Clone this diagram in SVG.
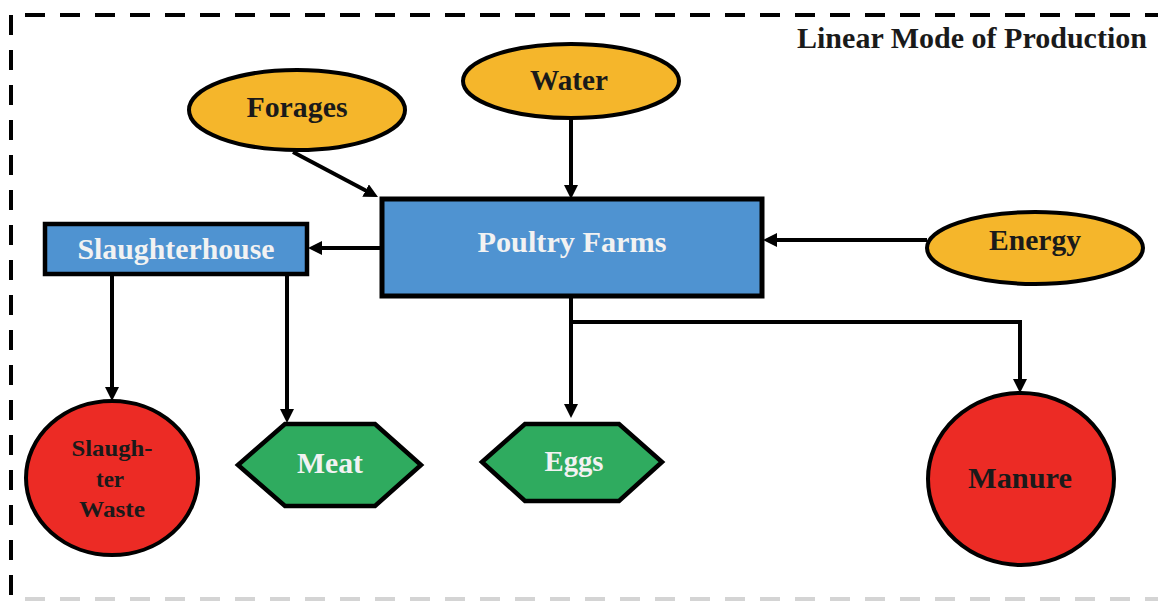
<svg xmlns="http://www.w3.org/2000/svg" width="1158" height="601" viewBox="0 0 1158 601">
<defs>
<style>
.lbl{font-family:"Liberation Serif","Times New Roman",serif;font-weight:bold;text-anchor:middle}
.dark{fill:#1a1a1a}
.light{fill:#f2f2f2}
.ell{fill:#f5b62b;stroke:#000;stroke-width:4}
.box{fill:#4f93d1;stroke:#000;stroke-width:5}
.hex{fill:#2fab5f;stroke:#000;stroke-width:4.5}
.circ{fill:#ec2b25;stroke:#000;stroke-width:4}
.con{fill:none;stroke:#000;stroke-width:4;marker-end:url(#ah)}
.brd{fill:none;stroke-width:4;stroke-dasharray:20 15}
</style>
<marker id="ah" markerUnits="userSpaceOnUse" markerWidth="16" markerHeight="16" refX="6" refY="7" orient="auto">
<path d="M0,0 L14,7 L0,14 z" fill="#000"/>
</marker>
</defs>
<rect width="1158" height="601" fill="#fff"/>
<g id="border">
<line class="brd" x1="25" y1="15" x2="1158" y2="15" stroke="#000"/>
<line class="brd" x1="11" y1="15" x2="11" y2="600" stroke="#000"/>
<line class="brd" x1="25" y1="599" x2="1158" y2="599" stroke="#d4d4d4"/>
</g>
<text class="lbl dark" x="972" y="48" font-size="29" textLength="350" lengthAdjust="spacingAndGlyphs">Linear Mode of Production</text>
<g id="connectors">
<path class="con" d="M293,152 L370.9,193.3"/>
<path class="con" d="M571,118 V191"/>
<path class="con" d="M927,240 H771"/>
<path class="con" d="M382,248 H316"/>
<path class="con" d="M112,275 V393"/>
<path class="con" d="M287,275 V415"/>
<path class="con" d="M571,296 V410"/>
<path class="con" d="M571,322 H1020 V385"/>
</g>
<g id="forages">
<ellipse class="ell" cx="297" cy="110" rx="108" ry="40"/>
<text class="lbl dark" x="297" y="117" font-size="29" textLength="101" lengthAdjust="spacingAndGlyphs">Forages</text>
</g>
<g id="water">
<ellipse class="ell" cx="571" cy="81" rx="108" ry="37"/>
<text class="lbl dark" x="569" y="90" font-size="29" textLength="78" lengthAdjust="spacingAndGlyphs">Water</text>
</g>
<g id="energy">
<ellipse class="ell" cx="1035" cy="248" rx="108" ry="36"/>
<text class="lbl dark" x="1035" y="250" font-size="29" textLength="92" lengthAdjust="spacingAndGlyphs">Energy</text>
</g>
<g id="poultry-farms">
<rect class="box" x="382" y="199" width="380" height="97"/>
<text class="lbl light" x="572" y="252" font-size="30" textLength="189" lengthAdjust="spacingAndGlyphs">Poultry Farms</text>
</g>
<g id="slaughterhouse">
<rect class="box" x="45" y="224" width="262" height="50" style="stroke-width:4.5"/>
<text class="lbl light" x="176" y="259" font-size="29" textLength="197" lengthAdjust="spacingAndGlyphs">Slaughterhouse</text>
</g>
<g id="slaughter-waste">
<ellipse class="circ" cx="112" cy="478" rx="86" ry="77"/>
<text class="lbl dark" x="112" y="456" font-size="24" textLength="81" lengthAdjust="spacingAndGlyphs">Slaugh-</text>
<text class="lbl dark" x="110" y="487" font-size="24" textLength="28" lengthAdjust="spacingAndGlyphs">ter</text>
<text class="lbl dark" x="112" y="517" font-size="24" textLength="66" lengthAdjust="spacingAndGlyphs">Waste</text>
</g>
<g id="meat">
<polygon class="hex" points="238,465 285,424 375,424 421,465 375,506 285,506"/>
<text class="lbl light" x="330" y="473" font-size="29" textLength="66" lengthAdjust="spacingAndGlyphs">Meat</text>
</g>
<g id="eggs">
<polygon class="hex" points="482,462 525,424 619,424 662,462 619,501 525,501"/>
<text class="lbl light" x="574" y="471" font-size="29" textLength="59" lengthAdjust="spacingAndGlyphs">Eggs</text>
</g>
<g id="manure">
<ellipse class="circ" cx="1021" cy="479" rx="93" ry="86"/>
<text class="lbl dark" x="1020" y="488" font-size="29" textLength="104" lengthAdjust="spacingAndGlyphs">Manure</text>
</g>
</svg>
